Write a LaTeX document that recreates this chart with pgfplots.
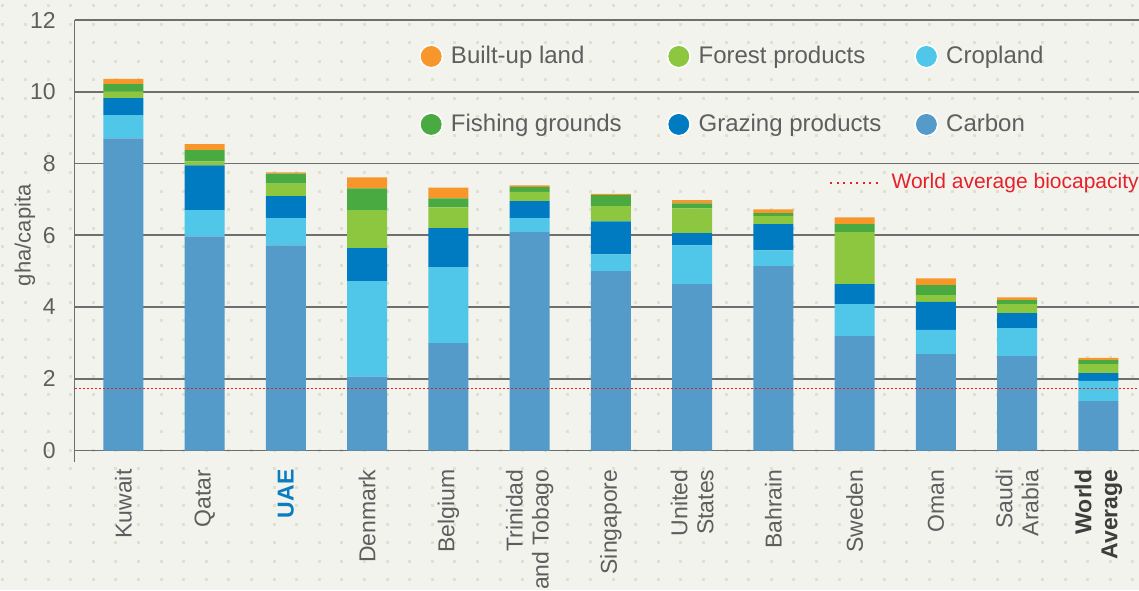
\documentclass[border=0pt]{standalone}
\usepackage{fontspec}
\setmainfont{Liberation Sans}
\usepackage{pgfplots}
\usepackage{pgfplotstable}
\pgfplotsset{compat=1.18}

\definecolor{bgc}{HTML}{F3F3EE}
\definecolor{dotc}{HTML}{DDE1CE}
\definecolor{carbonc}{HTML}{549BC9}
\definecolor{cropc}{HTML}{50C6E9}
\definecolor{grazc}{HTML}{007BC2}
\definecolor{forestc}{HTML}{8DC63F}
\definecolor{fishc}{HTML}{4AAA42}
\definecolor{builtc}{HTML}{F7962B}
\definecolor{gridc}{HTML}{6E6E6E}
\definecolor{txtc}{HTML}{5E5E5E}
\definecolor{redc}{HTML}{E8202A}
\definecolor{uaec}{HTML}{0A7CC1}
\definecolor{worldc}{HTML}{3D3D3D}

% gha/capita
\pgfplotstableread{
x carbon crop grazing forest fishing built
0  8.70 0.65 0.47 0.19 0.20 0.15
1  5.97 0.73 1.25 0.11 0.31 0.17
2  5.72 0.76 0.61 0.35 0.28 0.03
3  2.06 2.66 0.92 1.06 0.61 0.30
4  2.99 2.12 1.09 0.58 0.25 0.30
5  6.09 0.39 0.47 0.26 0.14 0.04
6  5.00 0.47 0.92 0.42 0.31 0.03
7  4.64 1.08 0.34 0.69 0.14 0.09
8  5.14 0.44 0.73 0.22 0.09 0.10
9  3.19 0.89 0.56 1.45 0.22 0.19
10 2.69 0.67 0.78 0.19 0.28 0.19
11 2.63 0.78 0.42 0.25 0.11 0.08
12 1.38 0.56 0.22 0.25 0.11 0.06
}\footprint

\begin{document}
\begin{tikzpicture}
% background
\fill[bgc] (-37.35pt,-69.75pt) rectangle (532.15pt,225.25pt);
\foreach \i in {0,...,50} {
  \foreach \j in {0,...,31} {
    \fill[dotc] ({-36.65pt+\i*11.3pt},{221.5pt-\j*9.25pt}) rectangle ++(1.5pt,1.5pt);
  }
}
\begin{axis}[
  scale only axis, width=532.15pt, height=215.25pt,
  xmin=-0.6, xmax=12.5, ymin=0, ymax=12,
  ybar stacked, bar width=20pt,
  axis x line*=bottom, axis y line*=left,
  axis line style={-, draw=gridc, line width=0.8pt},
  ymajorgrids, grid style={draw=gridc, line width=0.8pt},
  ytick={0,2,...,12},
  xtick={0,...,12},
  xticklabels={Kuwait, Qatar, \textcolor{uaec}{\textbf{UAE}}, Denmark, Belgium,
    {Trinidad\\and Tobago}, Singapore, {United\\States}, Bahrain, Sweden, Oman,
    {Saudi\\Arabia}, {\textcolor{worldc}{\textbf{World}}\\\textcolor{worldc}{\textbf{Average}}}},
  tick align=outside, major tick length=6pt,
  xtick style={draw=none}, ytick style={draw=none},
  extra x ticks={0.5,1.5,...,11.5}, extra x tick labels={},
  extra x tick style={tick style={draw=gridc, line width=0.8pt}},
  /pgf/number format/assume math mode=true,
  yticklabel style={font=\fontsize{11.5}{13}\selectfont, text=txtc},
  xticklabel style={rotate=90, anchor=east, align=right,
    font=\fontsize{11.5}{13}\selectfont, text=txtc},
  ylabel={gha/capita},
  every axis y label/.style={at={(axis description cs:-0.0467,0.5)}, rotate=90, anchor=center},
  ylabel style={font=\fontsize{11}{13}\selectfont, text=txtc},
  legend columns=3,
  legend style={draw=none, fill=none, inner sep=0pt,
    at={(axis description cs:0.3233,0.9442)}, anchor=north west,
    font=\fontsize{12}{14}\selectfont, text=txtc,
    nodes={inner sep=0pt}, row sep=22pt,
    /tikz/every even column/.append style={column sep=0pt},
    /tikz/every odd column/.append style={column sep=0pt}},
]
\addplot[fill=carbonc, draw=none, forget plot] table[x=x, y=carbon] {\footprint};
\addplot[fill=cropc, draw=none, forget plot] table[x=x, y=crop] {\footprint};
\addplot[fill=grazc, draw=none, forget plot] table[x=x, y=grazing] {\footprint};
\addplot[fill=forestc, draw=none, forget plot] table[x=x, y=forest] {\footprint};
\addplot[fill=fishc, draw=none, forget plot] table[x=x, y=fishing] {\footprint};
\addplot[fill=builtc, draw=none, forget plot] table[x=x, y=built] {\footprint};

\addlegendimage{legend image code/.code={\fill[white] (0pt,0pt) circle (5.8pt); \fill[builtc] (0pt,0pt) circle (5pt);}}
\addlegendentry{\makebox[111.8pt][l]{\hspace{3.9pt}Built-up land}}
\addlegendimage{legend image code/.code={\fill[white] (0pt,0pt) circle (5.8pt); \fill[forestc] (0pt,0pt) circle (5pt);}}
\addlegendentry{\makebox[111.8pt][l]{\hspace{3.9pt}Forest products}}
\addlegendimage{legend image code/.code={\fill[white] (0pt,0pt) circle (5.8pt); \fill[cropc] (0pt,0pt) circle (5pt);}}
\addlegendentry{\makebox[111.8pt][l]{\hspace{3.9pt}Cropland}}
\addlegendimage{legend image code/.code={\fill[white] (0pt,0pt) circle (5.8pt); \fill[fishc] (0pt,0pt) circle (5pt);}}
\addlegendentry{\makebox[111.8pt][l]{\hspace{3.9pt}Fishing grounds}}
\addlegendimage{legend image code/.code={\fill[white] (0pt,0pt) circle (5.8pt); \fill[grazc] (0pt,0pt) circle (5pt);}}
\addlegendentry{\makebox[111.8pt][l]{\hspace{3.9pt}Grazing products}}
\addlegendimage{legend image code/.code={\fill[white] (0pt,0pt) circle (5.8pt); \fill[carbonc] (0pt,0pt) circle (5pt);}}
\addlegendentry{\makebox[111.8pt][l]{\hspace{3.9pt}Carbon}}
\end{axis}
\draw[gridc, line width=0.8pt] (0pt,0pt) -- (0pt,-5.5pt);
% reference line on top of the bars
\begin{axis}[
  scale only axis, width=532.15pt, height=215.25pt,
  xmin=-0.6, xmax=12.5, ymin=0, ymax=12, hide axis,
]
\addplot[redc, line width=0.8pt, dash pattern=on 1.2pt off 0.8pt] coordinates {(-0.6,1.73) (12.5,1.73)};
\addplot[redc, line width=0.8pt, dash pattern=on 1pt off 2.25pt] coordinates {(8.70,7.45) (9.31,7.45)};
\node[anchor=west, text=redc, font=\fontsize{10.5}{12}\selectfont, inner sep=0pt] at (axis cs:9.45,7.45) {World average biocapacity};
\end{axis}
\pgfresetboundingbox
\path (-37.35pt,-69.75pt) rectangle (532.15pt,225.25pt);
\end{tikzpicture}
\end{document}
